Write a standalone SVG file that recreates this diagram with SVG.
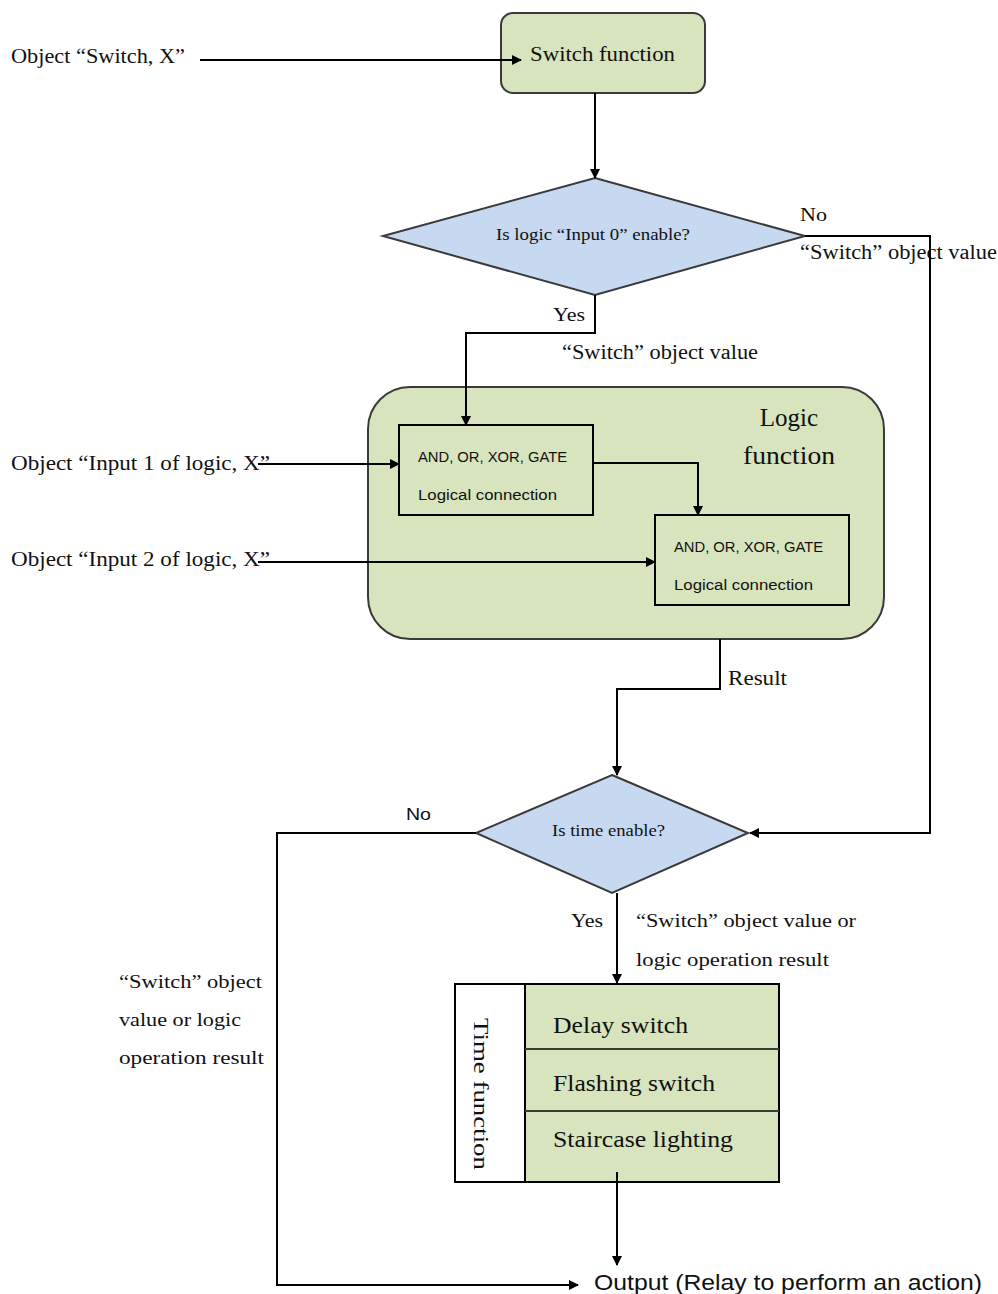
<svg xmlns="http://www.w3.org/2000/svg" width="998" height="1294" viewBox="0 0 998 1294">
<defs>
<marker id="ah" markerWidth="10" markerHeight="10" refX="9" refY="5" orient="auto" markerUnits="userSpaceOnUse">
<path d="M0,0 L10,5 L0,10 Z" fill="#000"/>
</marker>
<style>
.s{font-family:"Liberation Serif",serif;fill:#111;}
.c{font-family:"Liberation Sans",Arial,sans-serif;fill:#111;}
.green{fill:#d7e4bd;stroke:#3a3a3a;stroke-width:2;}
.blue{fill:#c6d9f1;stroke:#3a3a3a;stroke-width:2;}
.box{fill:#d7e4bd;stroke:#000;stroke-width:2;}
.ln{fill:none;stroke:#000;stroke-width:2;}
</style>
</defs>
<rect width="998" height="1294" fill="#fff"/>

<g id="label-inputs">
<text class="s" x="11" y="63" font-size="20" textLength="174" lengthAdjust="spacingAndGlyphs">Object “Switch, X”</text>
<text class="s" x="11" y="470" font-size="20" textLength="259" lengthAdjust="spacingAndGlyphs">Object  “Input 1 of logic, X”</text>
<text class="s" x="11" y="566" font-size="20" textLength="259" lengthAdjust="spacingAndGlyphs">Object  “Input 2 of logic, X”</text>
</g>

<g id="switch-function">
<rect class="green" x="501" y="13" width="204" height="80" rx="12"/>
<text class="s" x="530" y="61" font-size="20" textLength="145" lengthAdjust="spacingAndGlyphs">Switch function</text>
</g>

<g id="decision-input0">
<polygon class="blue" points="595,178 805,236 595,295 383,236"/>
<text class="s" x="496" y="240" font-size="17" textLength="194" lengthAdjust="spacingAndGlyphs">Is logic “Input 0” enable?</text>
</g>

<g id="labels-decision1">
<text class="s" x="800" y="221" font-size="19" textLength="27" lengthAdjust="spacingAndGlyphs">No</text>
<text class="s" x="800" y="259" font-size="20" textLength="197" lengthAdjust="spacingAndGlyphs">“Switch” object value</text>
<text class="s" x="553" y="321" font-size="19" textLength="32" lengthAdjust="spacingAndGlyphs">Yes</text>
<text class="s" x="562" y="359" font-size="20" textLength="196" lengthAdjust="spacingAndGlyphs">“Switch” object value</text>
</g>

<g id="logic-function">
<rect class="green" x="368" y="387" width="516" height="252" rx="42"/>
<text class="s" x="789" y="426" font-size="25" text-anchor="middle">Logic</text>
<text class="s" x="789" y="464" font-size="25" text-anchor="middle" textLength="92" lengthAdjust="spacingAndGlyphs">function</text>
</g>

<g id="gate-1">
<rect class="box" x="399" y="425" width="194" height="90"/>
<text class="c" x="418" y="462" font-size="14" textLength="149" lengthAdjust="spacingAndGlyphs">AND, OR, XOR, GATE</text>
<text class="c" x="418" y="500" font-size="14" textLength="139" lengthAdjust="spacingAndGlyphs">Logical connection</text>
</g>

<g id="gate-2">
<rect class="box" x="655" y="515" width="194" height="90"/>
<text class="c" x="674" y="552" font-size="14" textLength="149" lengthAdjust="spacingAndGlyphs">AND, OR, XOR, GATE</text>
<text class="c" x="674" y="590" font-size="14" textLength="139" lengthAdjust="spacingAndGlyphs">Logical connection</text>
</g>

<g id="label-result">
<text class="s" x="728" y="685" font-size="20" textLength="59" lengthAdjust="spacingAndGlyphs">Result</text>
</g>

<g id="decision-time">
<polygon class="blue" points="612,775 748,833 612,893 476,833"/>
<text class="s" x="552" y="836" font-size="17" textLength="113" lengthAdjust="spacingAndGlyphs">Is time enable?</text>
</g>

<g id="labels-decision2">
<text class="c" x="406" y="820" font-size="17" textLength="25" lengthAdjust="spacingAndGlyphs">No</text>
<text class="s" x="119" y="988" font-size="19" textLength="143" lengthAdjust="spacingAndGlyphs">“Switch” object</text>
<text class="s" x="119" y="1026" font-size="19" textLength="122" lengthAdjust="spacingAndGlyphs">value or logic</text>
<text class="s" x="119" y="1064" font-size="19" textLength="145" lengthAdjust="spacingAndGlyphs">operation result</text>
<text class="s" x="571" y="927" font-size="19" textLength="32" lengthAdjust="spacingAndGlyphs">Yes</text>
<text class="s" x="636" y="927" font-size="19" textLength="220" lengthAdjust="spacingAndGlyphs">“Switch” object value or</text>
<text class="s" x="636" y="966" font-size="19" textLength="193" lengthAdjust="spacingAndGlyphs">logic operation result</text>
</g>

<g id="time-function">
<rect x="455" y="984" width="70" height="198" fill="#fff" stroke="#000" stroke-width="2"/>
<rect class="box" x="525" y="984" width="254" height="198"/>
<line x1="525" y1="1049" x2="779" y2="1049" stroke="#3a3a3a" stroke-width="2"/>
<line x1="525" y1="1111" x2="779" y2="1111" stroke="#3a3a3a" stroke-width="2"/>
<text class="s" transform="translate(474,1018) rotate(90)" font-size="22" textLength="152" lengthAdjust="spacingAndGlyphs">Time function</text>
<text class="s" x="553" y="1033" font-size="23" textLength="135" lengthAdjust="spacingAndGlyphs">Delay switch</text>
<text class="s" x="553" y="1091" font-size="23" textLength="162" lengthAdjust="spacingAndGlyphs">Flashing switch</text>
<text class="s" x="553" y="1147" font-size="23" textLength="180" lengthAdjust="spacingAndGlyphs">Staircase lighting</text>
</g>

<g id="output">
<text class="c" x="594" y="1290" font-size="22" textLength="388" lengthAdjust="spacingAndGlyphs">Output (Relay to perform an action)</text>
</g>

<g id="connectors">
<path class="ln" d="M200,60 H521" marker-end="url(#ah)"/>
<path class="ln" d="M595,93 V178" marker-end="url(#ah)"/>
<path class="ln" d="M805,236 H930 V833 H750" marker-end="url(#ah)"/>
<path class="ln" d="M595,295 V333 H466 V425" marker-end="url(#ah)"/>
<path class="ln" d="M593,463 H698 V515" marker-end="url(#ah)"/>
<path class="ln" d="M258,464 H399" marker-end="url(#ah)"/>
<path class="ln" d="M258,562 H655" marker-end="url(#ah)"/>
<path class="ln" d="M720,639 V689 H617 V775" marker-end="url(#ah)"/>
<path class="ln" d="M476,833 H277 V1285 H578" marker-end="url(#ah)"/>
<path class="ln" d="M617,893 V983" marker-end="url(#ah)"/>
<path class="ln" d="M617,1172 V1265" marker-end="url(#ah)"/>
</g>
</svg>
